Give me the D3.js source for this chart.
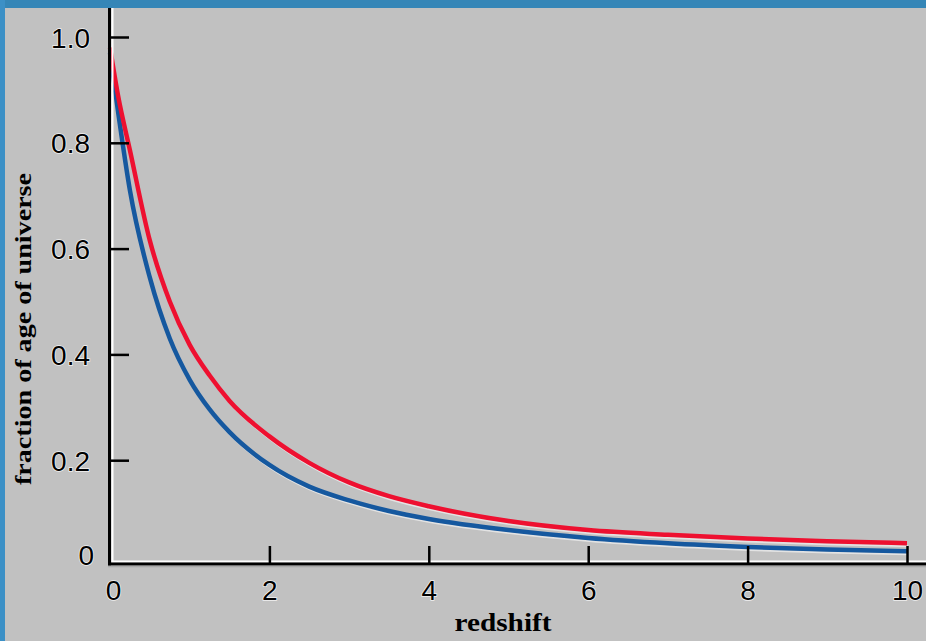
<!DOCTYPE html>
<html>
<head>
<meta charset="utf-8">
<script src="https://cdn.jsdelivr.net/npm/d3@7"></script>
<style>
  html, body { margin: 0; padding: 0; background: #c1c1c1; }
  svg { display: block; }
</style>
</head>
<body>
<svg id="chart" width="926" height="641"></svg>
<script>
// Redshift grid and age fraction for the two cosmologies
const redshift = [0, 0.1, 0.25, 0.5, 0.75, 1, 1.25, 1.5, 2, 2.5, 3, 3.5, 4, 5, 6, 7, 8, 9, 10];
const ageRed  = [0.98, 0.89, 0.786, 0.615, 0.50, 0.418, 0.36, 0.312, 0.245, 0.195, 0.158, 0.132, 0.113, 0.085, 0.068, 0.059, 0.052, 0.047, 0.043];
const ageBlue = [0.97, 0.86, 0.71, 0.545, 0.43, 0.352, 0.296, 0.253, 0.191, 0.150, 0.124, 0.104, 0.089, 0.068, 0.053, 0.043, 0.036, 0.031, 0.028];

const xTicks = [0, 2, 4, 6, 8, 10];
const xTickLabels = ["0", "2", "4", "6", "8", "10"];
const yTicks = [0, 0.2, 0.4, 0.6, 0.8, 1.0];
const yTickLabels = ["0", "0.2", "0.4", "0.6", "0.8", "1.0"];

const W = 926, H = 641;
const svg = d3.select("#chart");

const x = d3.scaleLinear().domain([0, 10]).range([110, 907]);
const y = d3.scaleLinear().domain([0, 1]).range([566, 37]);

// frame
svg.append("rect").attr("width", W).attr("height", H).attr("fill", "#c1c1c1");
svg.append("rect").attr("x", 0).attr("y", 0).attr("width", W).attr("height", 8).attr("fill", "#3586b7");
svg.append("rect").attr("x", 0).attr("y", 0).attr("width", 5).attr("height", H).attr("fill", "#3c90c6");

// curves
const line = d3.line()
  .x((d, i) => x(redshift[i]))
  .y(d => y(d))
  .curve(d3.curveMonotoneX);

const series = [
  { values: ageBlue, color: "#15589f" },
  { values: ageRed,  color: "#ee1030" }
];

series.forEach(s => {
  svg.append("path")
    .attr("d", line(s.values))
    .attr("fill", "none")
    .attr("stroke", "#ffffff")
    .attr("stroke-opacity", 0.55)
    .attr("stroke-width", 2)
    .attr("transform", "translate(1,3)");
  svg.append("path")
    .attr("d", line(s.values))
    .attr("fill", "none")
    .attr("stroke", s.color)
    .attr("stroke-width", 4.5)
    .attr("stroke-linejoin", "round");
});

// axis lines (black with a white inner edge)
const axisY = y(0) - 2;
svg.append("line").attr("x1", 112.5).attr("x2", 112.5).attr("y1", 8).attr("y2", axisY - 2)
  .attr("stroke", "#ffffff").attr("stroke-width", 2);
svg.append("line").attr("x1", 112).attr("x2", W).attr("y1", axisY - 2.5).attr("y2", axisY - 2.5)
  .attr("stroke", "#ffffff").attr("stroke-width", 2);
svg.append("line").attr("x1", 109.5).attr("x2", 109.5).attr("y1", 8).attr("y2", axisY + 1.5)
  .attr("stroke", "#000").attr("stroke-width", 3);
svg.append("line").attr("x1", 108).attr("x2", W).attr("y1", axisY).attr("y2", axisY)
  .attr("stroke", "#000").attr("stroke-width", 3);
svg.append("line").attr("x1", 108).attr("x2", W).attr("y1", axisY + 2.5).attr("y2", axisY + 2.5)
  .attr("stroke", "#a9a9a9").attr("stroke-width", 1.5);

const labelFont = "'Liberation Sans', Arial, sans-serif";

// y axis ticks and labels
const yAxis = d3.axisLeft(y)
  .tickValues(yTicks)
  .tickSizeInner(-18)
  .tickSizeOuter(0)
  .tickPadding(21)
  .tickFormat((d, i) => yTickLabels[i]);
const gy = svg.append("g").attr("transform", "translate(111,0)").call(yAxis);
gy.select(".domain").remove();
gy.selectAll(".tick line")
  .attr("stroke", "#000").attr("stroke-width", 2.5)
  .attr("display", d => d === 0 ? "none" : null);
gy.selectAll(".tick text")
  .attr("fill", "#000")
  .attr("font-family", labelFont)
  .attr("font-size", 28)
  .attr("dy", (d) => d === 0 ? "-0.05em" : "0.36em")
  .attr("x", d => d === 0 ? -17 : -21)
  .style("paint-order", "stroke")
  .attr("stroke", "#ffffff").attr("stroke-width", 1.5).attr("stroke-opacity", 0.8);

// x axis ticks and labels
const xAxis = d3.axisBottom(x)
  .tickValues(xTicks)
  .tickSizeInner(-17)
  .tickSizeOuter(0)
  .tickPadding(17)
  .tickFormat((d, i) => xTickLabels[i]);
const gx = svg.append("g").attr("transform", `translate(0,${axisY - 1})`).call(xAxis);
gx.select(".domain").remove();
gx.selectAll(".tick line")
  .attr("stroke", "#000").attr("stroke-width", 2.5)
  .attr("display", d => d === 0 ? "none" : null);
gx.selectAll(".tick text")
  .attr("fill", "#000")
  .attr("font-family", labelFont)
  .attr("font-size", 28)
  .attr("dx", d => d === 0 ? 3 : 0)
  .style("paint-order", "stroke")
  .attr("stroke", "#ffffff").attr("stroke-width", 1.5).attr("stroke-opacity", 0.8);

// axis titles
const titleFont = "'Liberation Serif', 'Times New Roman', serif";
svg.append("text")
  .attr("x", 503).attr("y", 631)
  .attr("text-anchor", "middle")
  .attr("font-family", titleFont)
  .attr("font-size", 25)
  .attr("font-weight", "bold")
  .attr("textLength", 97)
  .attr("lengthAdjust", "spacingAndGlyphs")
  .attr("fill", "#000")
  .text("redshift");

svg.append("text")
  .attr("transform", "translate(31,329) rotate(-90)")
  .attr("text-anchor", "middle")
  .attr("font-family", titleFont)
  .attr("font-size", 24)
  .attr("font-weight", "bold")
  .attr("textLength", 312)
  .attr("lengthAdjust", "spacingAndGlyphs")
  .attr("fill", "#000")
  .text("fraction of age of universe");
</script>
</body>
</html>
